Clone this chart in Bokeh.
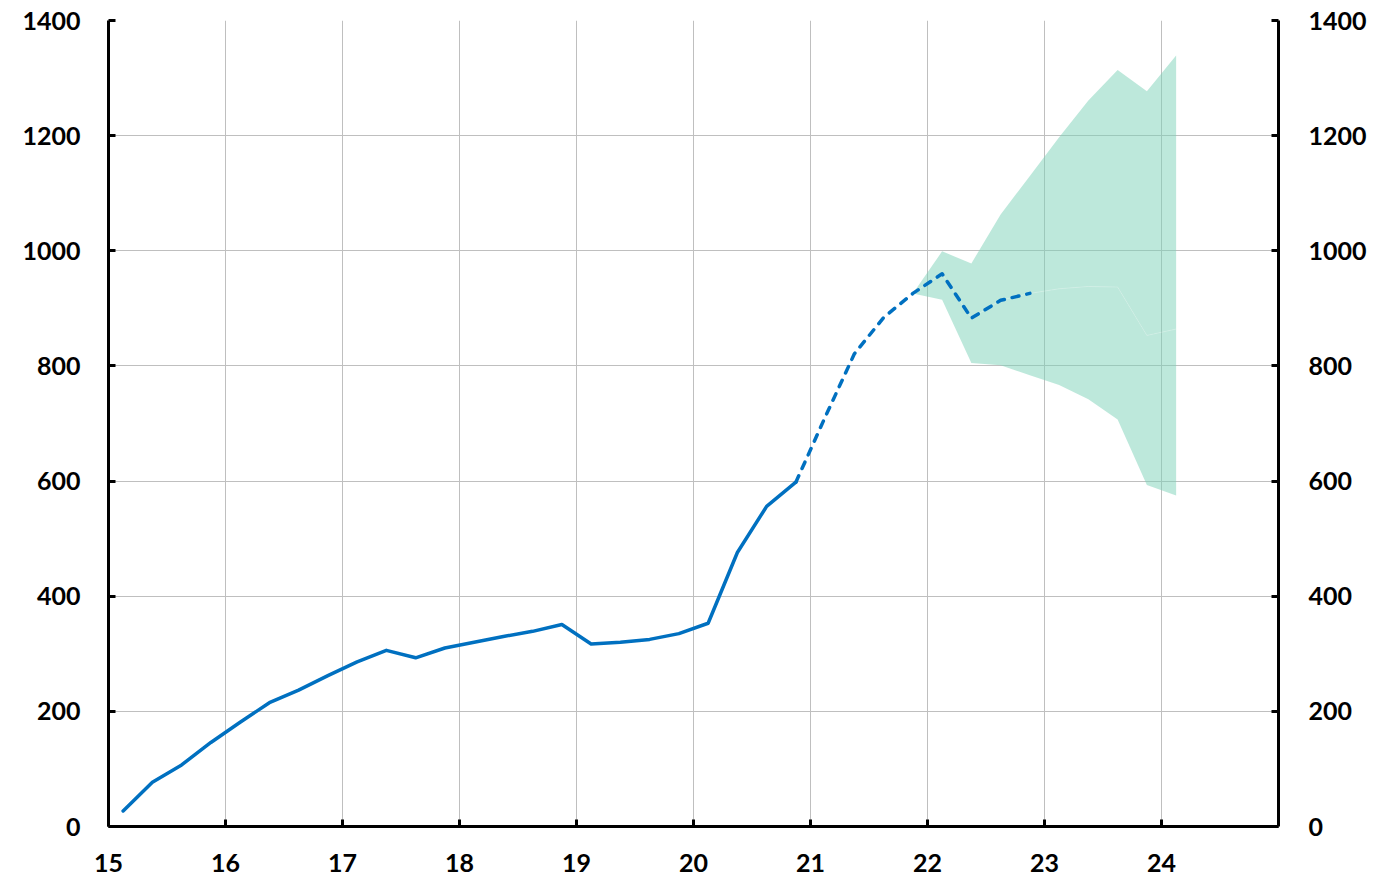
from bokeh.plotting import figure
from bokeh.models import LinearAxis, FixedTicker, Range1d
from bokeh.embed import file_html
from bokeh.resources import INLINE

# Quarterly observations (solid) and estimates (dashed)
t_actual = [15.125, 15.375, 15.625, 15.875, 16.125, 16.375, 16.625, 16.875,
            17.125, 17.375, 17.625, 17.875, 18.125, 18.375, 18.625, 18.875,
            19.125, 19.375, 19.625, 19.875, 20.125, 20.375, 20.625, 20.875]
v_actual = [27, 77, 107, 146, 181, 215, 237, 262,
            286, 306, 293, 310, 320, 330, 339, 351,
            317, 320, 325, 335, 353, 476, 556, 598]

t_est = [20.875, 21.125, 21.375, 21.625, 21.875, 22.125, 22.375, 22.625, 22.875]
v_est = [598, 711, 821, 884, 926, 960, 883, 914, 926]

# Projection band
t_band = [21.875, 22.125, 22.375, 22.625, 22.875, 23.125, 23.375, 23.625, 23.875, 24.125]
band_upper = [926, 999, 978, 1063, 1130, 1197, 1261, 1314, 1277, 1339]
band_mid = [926, 960, 883, 914, 926, 934, 938, 937, 853, 864]
band_lower = [926, 915, 805, 801, 784, 767, 742, 707, 593, 575]

x_ticks = [15, 16, 17, 18, 19, 20, 21, 22, 23, 24]
y_ticks = [0, 200, 400, 600, 800, 1000, 1200, 1400]

FONT = "Lato"
BLUE = "#0070C0"
BAND = "#7BD1B7"

p = figure(width=1374, height=879, output_backend="svg", toolbar_location=None,
           x_range=Range1d(15, 25), y_range=Range1d(0, 1400),
           min_border_left=108, min_border_right=96, min_border_top=20, min_border_bottom=53,
           outline_line_color=None, background_fill_color="white", border_fill_color="white")

p.varea(x=t_band, y1=band_lower, y2=band_mid, fill_color=BAND, fill_alpha=0.5)
p.varea(x=t_band, y1=band_mid, y2=band_upper, fill_color=BAND, fill_alpha=0.5)
p.line(t_band, band_mid, line_color="white", line_alpha=0.2, line_width=1)

p.line(t_actual, v_actual, line_color=BLUE, line_width=3.5, line_cap="round", line_join="round")
p.line(t_est, v_est, line_color=BLUE, line_width=3.5, line_cap="round", line_join="round",
       line_dash="7 8")

def style_axis(ax, standoff):
    ax.axis_line_color = "black"
    ax.axis_line_width = 3
    ax.major_tick_line_color = "black"
    ax.major_tick_line_width = 3
    ax.major_tick_in = 7
    ax.major_tick_out = 0
    ax.minor_tick_line_color = None
    ax.major_label_text_font = FONT
    ax.major_label_text_font_style = "bold"
    ax.major_label_text_font_size = "25px"
    ax.major_label_text_color = "black"
    ax.major_label_standoff = standoff

p.xaxis.ticker = FixedTicker(ticks=x_ticks)
p.yaxis.ticker = FixedTicker(ticks=y_ticks)
style_axis(p.xaxis[0], 27)
style_axis(p.yaxis[0], 28)

right = LinearAxis(ticker=FixedTicker(ticks=y_ticks))
style_axis(right, 30)
p.add_layout(right, "right")

p.xgrid.ticker = FixedTicker(ticks=x_ticks)
p.ygrid.ticker = FixedTicker(ticks=y_ticks)
for g in (p.xgrid, p.ygrid):
    g.grid_line_color = "#bfbfbf"
    g.grid_line_width = 1

open("out.html", "w").write(file_html(p, INLINE))
